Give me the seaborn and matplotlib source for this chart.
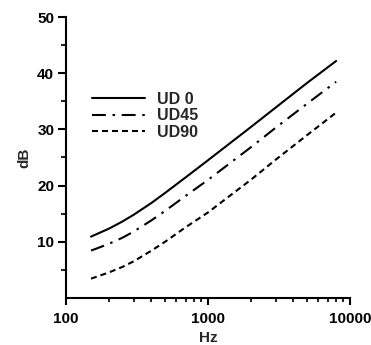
import matplotlib
matplotlib.use("Agg")
import numpy as np
import pandas as pd
import seaborn as sns
from matplotlib import pyplot as plt
from matplotlib import ticker

# values
freq_hz = [150, 200, 250, 300, 400, 500, 700, 1000, 2000, 3000, 5000, 8000]
ud0 = [10.9, 12.3, 13.6, 14.8, 16.9, 18.7, 21.5, 24.5, 30.4, 33.9, 38.3, 42.2]
ud45 = [8.4, 9.6, 10.7, 11.8, 13.8, 15.5, 18.2, 21.0, 26.8, 30.3, 34.6, 38.5]
ud90 = [3.4, 4.5, 5.5, 6.5, 8.4, 10.0, 12.6, 15.2, 21.0, 24.6, 29.0, 33.0]
series_names = ["UD 0", "UD45", "UD90"]

df = pd.concat([
    pd.DataFrame({"Hz": freq_hz, "dB": vals, "series": name})
    for name, vals in zip(series_names, [ud0, ud45, ud90])
])

sns.set_style("ticks")
plt.rcParams["font.family"] = ["Liberation Sans", "DejaVu Sans"]
plt.rcParams["font.weight"] = "bold"
plt.rcParams["lines.scale_dashes"] = False

fig = plt.figure(figsize=(3.71, 3.45), dpi=100)
ax = fig.add_axes([0.178, 0.137, 0.765, 0.813])

dash_styles = {"UD 0": "", "UD45": (10, 4.8, 1.8, 4.8), "UD90": (4.3, 2.9)}
sns.lineplot(data=df, x="Hz", y="dB", style="series", dashes=dash_styles,
             color="black", linewidth=1.5, ax=ax, legend=True)

ax.set_xscale("log")
ax.set_xlim(100, 10000)
ax.set_ylim(0, 50)
ax.set_xticks([100, 1000, 10000])
ax.xaxis.set_major_formatter(ticker.FuncFormatter(lambda v, p: f"{int(v)}"))
ax.xaxis.set_minor_locator(ticker.LogLocator(base=10, subs=np.arange(2, 10)))
ax.xaxis.set_minor_formatter(ticker.NullFormatter())
ax.set_yticks([10, 20, 30, 40, 50])
ax.yaxis.set_minor_locator(ticker.FixedLocator([5, 15, 25, 35, 45]))

for side in ["top", "right"]:
    ax.spines[side].set_visible(False)
for side in ["left", "bottom"]:
    ax.spines[side].set_linewidth(1.5)
    ax.spines[side].set_color("black")

ax.tick_params(axis="y", which="major", length=6, width=1.5, labelsize=11, colors="black", pad=2.5)
ax.tick_params(axis="y", which="minor", length=3.5, width=1.5)
ax.tick_params(axis="x", which="major", length=5, width=1.5, labelsize=11, colors="black", pad=5)
ax.tick_params(axis="x", which="minor", length=3, width=1.5)
for lab in ax.get_xticklabels() + ax.get_yticklabels():
    lab.set_fontweight("bold")

ax.set_xlabel("Hz", fontsize=11, fontweight="bold", labelpad=4)
ax.set_ylabel("dB", fontsize=11, fontweight="bold", labelpad=4)

handles, labels = ax.get_legend_handles_labels()
ax.legend(handles, labels, loc="upper left", frameon=False,
          bbox_to_anchor=(92 / 371, 1 - 92 / 345), bbox_transform=fig.transFigure,
          borderaxespad=0, borderpad=0, handlelength=3.3, handletextpad=0.77,
          labelspacing=0.09, prop={"weight": "bold", "size": 11.5})

fig.savefig("out.png", dpi=100)
